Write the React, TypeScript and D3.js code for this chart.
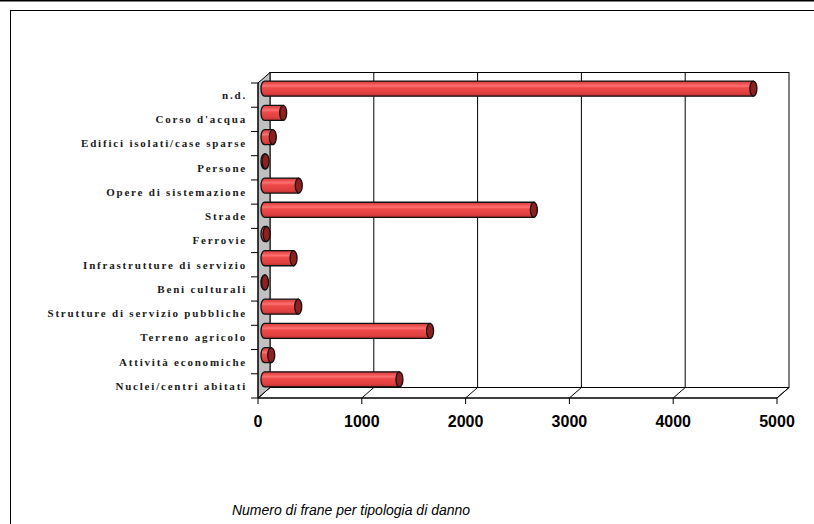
import React from 'react';
import * as d3 from 'd3';

const categories = [
  'n.d.',
  "Corso d'acqua",
  'Edifici isolati/case sparse',
  'Persone',
  'Opere di sistemazione',
  'Strade',
  'Ferrovie',
  'Infrastrutture di servizio',
  'Beni culturali',
  'Strutture di servizio pubbliche',
  'Terreno agricolo',
  'Attività economiche',
  'Nuclei/centri abitati',
];
const values = [4710, 180, 80, 10, 330, 2595, 20, 280, 5, 325, 1595, 65, 1300];
const xTicks = [0, 1000, 2000, 3000, 4000, 5000];
const title = 'Numero di frane per tipologia di danno';

const W = 814;
const H = 524;
// front plane of the 3D box
const left = 258;
const right = 777;
const top = 83;
const bottom = 398;
// depth vector towards the back wall
const DX = 12;
const DY = -10.5;

const App = () => {
  const x = d3.scaleLinear().domain([0, 5000]).range([left, right]);
  const y = d3.scaleBand<string>().domain(categories).range([top, bottom]).padding(0);
  const bw = y.bandwidth();
  const barH = bw * 0.62;
  const rx = 3.5;
  const ry = barH / 2;
  const offX = 6.5;
  const offY = -6.5;

  const boundaries = d3.range(categories.length + 1).map(i => top + i * bw);

  return (
    <svg width={W} height={H} style={{ position: 'absolute', left: 0, top: 0, background: '#fff' }}>
      <defs>
        <linearGradient id="cyl" x1="0" y1="0" x2="0" y2="1">
          <stop offset="0%" stopColor="#d23a3a" />
          <stop offset="22%" stopColor="#f45a5a" />
          <stop offset="32%" stopColor="#ff7272" />
          <stop offset="45%" stopColor="#ee4a4a" />
          <stop offset="80%" stopColor="#e04040" />
          <stop offset="100%" stopColor="#b83030" />
        </linearGradient>
      </defs>

      {/* page line and chart frame */}
      <line x1={0} x2={W} y1={0.5} y2={0.5} stroke="#000" strokeWidth={2} />
      <rect x={10.5} y={10.5} width={W + 20} height={H + 20} fill="none" stroke="#000" strokeWidth={1} />

      {/* back wall */}
      <rect x={left + DX} y={top + DY} width={right - left} height={bottom - top} fill="#fff" stroke="#000" strokeWidth={1} />
      {xTicks.slice(1, -1).map(t => (
        <line key={'g' + t} x1={x(t) + DX} x2={x(t) + DX} y1={top + DY} y2={bottom + DY} stroke="#000" strokeWidth={1} />
      ))}

      {/* floor */}
      <polygon
        points={`${left},${bottom} ${right},${bottom} ${right + DX},${bottom + DY} ${left + DX},${bottom + DY}`}
        fill="#fff"
        stroke="#000"
        strokeWidth={1}
      />
      {xTicks.map(t => (
        <line key={'f' + t} x1={x(t)} x2={x(t) + DX} y1={bottom} y2={bottom + DY} stroke="#000" strokeWidth={1} />
      ))}

      {/* left side wall */}
      <polygon
        points={`${left},${top} ${left + DX},${top + DY} ${left + DX},${bottom + DY} ${left},${bottom}`}
        fill="#c0c0c0"
        stroke="#000"
        strokeWidth={1}
      />

      {/* cylinders */}
      {categories.map((c, i) => {
        const cy = (y(c) as number) + bw / 2 + offY;
        const x0 = x(0) + offX;
        const x1 = x(values[i]) + offX;
        const t = cy - ry;
        const b = cy + ry;
        return (
          <g key={c}>
            {x1 - x0 > 0.5 && (
              <path
                d={`M${x0},${t} L${x1},${t} L${x1},${b} L${x0},${b} A${rx},${ry} 0 0 1 ${x0},${t} Z`}
                fill="url(#cyl)"
                stroke="#111"
                strokeWidth={1.3}
              />
            )}
            <ellipse cx={x1} cy={cy} rx={rx} ry={ry} fill="#8e2020" stroke="#111" strokeWidth={1.3} />
          </g>
        );
      })}

      {/* category ticks */}
      {boundaries.map((b, i) => (
        <line key={'ct' + i} x1={left - 7} x2={left} y1={b} y2={b} stroke="#000" strokeWidth={1} />
      ))}
      <line x1={left} x2={left} y1={top} y2={bottom} stroke="#000" strokeWidth={1} />

      {/* value ticks */}
      <line x1={left} x2={right} y1={bottom} y2={bottom} stroke="#000" strokeWidth={1} />
      {xTicks.map(t => (
        <line key={'vt' + t} x1={x(t)} x2={x(t)} y1={bottom} y2={bottom + 6} stroke="#000" strokeWidth={1} />
      ))}
      {xTicks.map(t => (
        <text
          key={'vl' + t}
          x={x(t)}
          y={427}
          textAnchor="middle"
          fontFamily="Liberation Sans, Arial, sans-serif"
          fontWeight="bold"
          fontSize={16}
          fill="#000"
        >
          {t}
        </text>
      ))}

      {/* category labels */}
      {categories.map(c => (
        <text
          key={'cl' + c}
          x={247}
          y={(y(c) as number) + bw / 2}
          dy="0.35em"
          textAnchor="end"
          fontFamily="Liberation Serif, Times New Roman, serif"
          fontWeight="bold"
          fontSize={11}
          letterSpacing={1.8}
          fill="#1a1a1a"
        >
          {c}
        </text>
      ))}

      {/* title */}
      <text
        x={351}
        y={515}
        textAnchor="middle"
        fontFamily="Liberation Sans, Arial, sans-serif"
        fontStyle="italic"
        fontSize={14}
        fill="#000"
      >
        {title}
      </text>
    </svg>
  );
};

export default App;
